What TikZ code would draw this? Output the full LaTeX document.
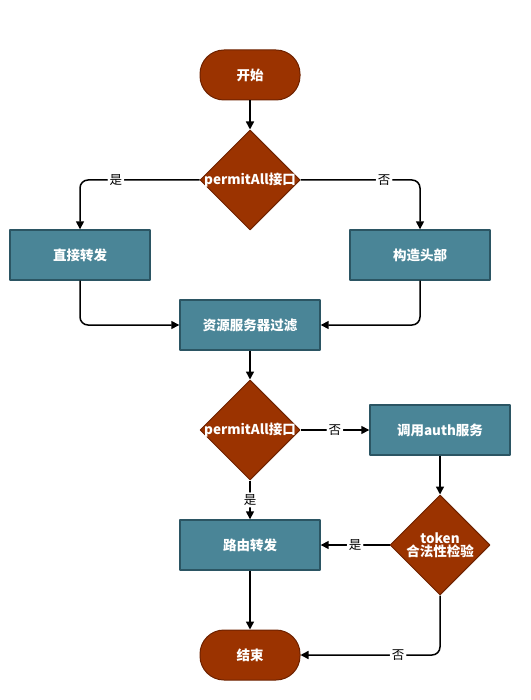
\documentclass[tikz,border=0pt]{standalone}
\usepackage{fontspec}
\setmainfont{Noto Sans CJK SC}
\usetikzlibrary{arrows.meta,shapes.geometric,positioning}
\definecolor{redfill}{HTML}{9B3300}
\definecolor{redline}{HTML}{6E2200}
\definecolor{tealfill}{HTML}{4A8597}
\definecolor{tealline}{HTML}{2B5563}

\begin{document}
\begin{tikzpicture}[
  x=1pt,y=-1pt,
  line join=round,
  txt/.style={text=white,font=\fontsize{13.5}{16}\selectfont\bfseries,align=center},
  term/.style={txt,draw=redline,fill=redfill,line width=1pt,rounded corners=24pt,
    minimum width=100pt,minimum height=50pt,inner sep=0pt},
  decide/.style={diamond,draw=redline,fill=redfill,line width=1pt,
    minimum width=100pt,minimum height=100pt,inner sep=0pt},
  proc/.style={txt,draw=tealline,fill=tealfill,line width=1.4pt,
    minimum width=140pt,minimum height=50pt,inner sep=0pt},
  flow/.style={draw=black,line width=1.5pt,rounded corners=8pt,
    -{Triangle[length=8pt,width=8pt]}},
  lbl/.style={fill=white,text=black,inner sep=2pt,font=\fontsize{12.5}{14}\selectfont}
]
  \useasboundingbox (0,0) rectangle (530,700);

  % Nodes
  \node[term] (start) at (250,75) {开始};
  \node[decide,label={[txt]center:permitAll接口}] (check1) at (250,180) {};
  \node[proc] (direct) at (80,255) {直接转发};
  \node[proc] (header) at (420,255) {构造头部};
  \node[proc] (filter) at (250,325) {资源服务器过滤};
  \node[decide,label={[txt]center:permitAll接口}] (check2) at (250,430) {};
  \node[proc] (auth) at (440,430) {调用auth服务};
  \node[proc] (route) at (250,545) {路由转发};
  \node[decide,label={[txt]center:token\\[-3pt]合法性检验}] (token) at (440,545) {};
  \node[term] (stop) at (250,655) {结束};

  % Connectors
  \draw[flow] (start) -- (check1);
  \draw[flow] (check1.west) -| node[lbl,pos=0.35] {是} (direct.north);
  \draw[flow] (check1.east) -| node[lbl,pos=0.35] {否} (header.north);
  \draw[flow] (direct.south) |- (filter.west);
  \draw[flow] (header.south) |- (filter.east);
  \draw[flow] (filter) -- (check2);
  \draw[flow] (check2.east) -- node[lbl] {否} (auth.west);
  \draw[flow] (check2.south) -- node[lbl] {是} (route.north);
  \draw[flow] (auth) -- (token);
  \draw[flow] (token.west) -- node[lbl] {是} (route.east);
  \draw[flow] (route) -- (stop);
  \draw[flow] (token.south) |- node[lbl,pos=0.65] {否} (stop.east);
\end{tikzpicture}
\end{document}
